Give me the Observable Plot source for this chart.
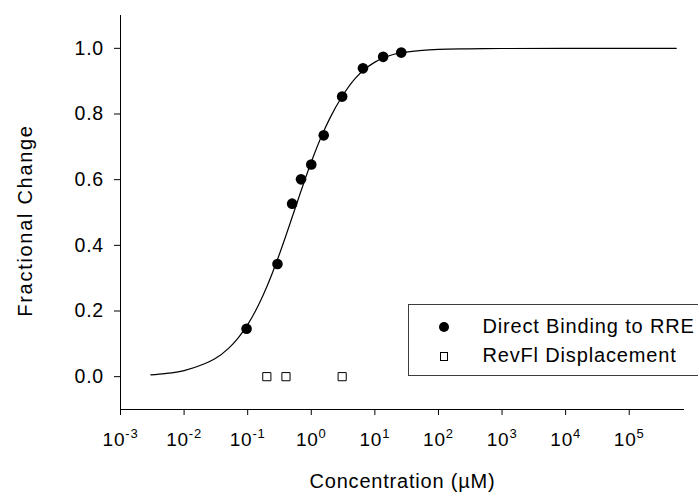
<!DOCTYPE html>
<html>
<head>
<meta charset="utf-8">
<script src="https://cdn.jsdelivr.net/npm/d3@7"></script>
<script src="https://cdn.jsdelivr.net/npm/@observablehq/plot@0.6"></script>
<style>
  html, body { margin: 0; padding: 0; background: #fff; }
  #wrap { position: relative; width: 698px; height: 493px; overflow: hidden; font-family: "Liberation Sans", Arial, sans-serif; }
  #chart svg text { letter-spacing: 0.8px; }
  #legend { position: absolute; left: 408px; top: 304px; width: 330px; height: 70px; border: 1px solid #3c3c3c; background: #fff;
            font-size: 20px; letter-spacing: 0.85px; color: #000; }
  #legend .row { position: absolute; left: 73.4px; line-height: 29px; white-space: nowrap; }
  #legend .sym { position: absolute; box-sizing: border-box; }
  #legend .circ { width: 10.6px; height: 10.6px; border-radius: 50%; background: #000; }
  #legend .sq { width: 8.5px; height: 8.5px; border: 1px solid #000; background: #fff; }
</style>
</head>
<body>
<div id="wrap">
  <div id="chart"></div>
  <div id="legend"></div>
</div>
<script>
// ---- data ----
const seriesNames = ["Direct Binding to RRE", "RevFl Displacement"];
const directX = [0.096, 0.294, 0.50, 0.69, 1.0, 1.57, 3.06, 6.5, 13.5, 26];
const directY = [0.146, 0.343, 0.527, 0.601, 0.646, 0.735, 0.853, 0.939, 0.974, 0.987];
const revflX = [0.2, 0.4, 3.06];
const revflY = [0, 0, 0];
// fitted curve
const fitX = [0.003, 0.005, 0.01, 0.02, 0.03, 0.05, 0.07, 0.1, 0.15, 0.2, 0.3, 0.4, 0.5, 0.7, 1, 1.5, 2, 3, 5, 7, 10, 20, 50, 100, 300, 1000, 1e4, 1e5, 5.5e5];
const fitY = [0.0056, 0.0094, 0.0185, 0.0377, 0.0536, 0.0862, 0.1167, 0.1587, 0.2206, 0.2740, 0.3614, 0.4301, 0.4854, 0.5691, 0.6536, 0.7389, 0.7905, 0.8510, 0.9100, 0.9370, 0.9580, 0.9820, 0.9930, 0.9970, 0.9985, 0.9995, 1.0, 1.0, 1.0];
const xTicks = [1e-3, 1e-2, 1e-1, 1, 1e1, 1e2, 1e3, 1e4, 1e5];
const xTickExponents = ["-3", "-2", "-1", "0", "1", "2", "3", "4", "5"];
const yTicks = [0, 0.2, 0.4, 0.6, 0.8, 1.0];
const yTickLabels = ["0.0", "0.2", "0.4", "0.6", "0.8", "1.0"];
const xTitle = "Concentration (\u00B5M)";
const yTitle = "Fractional Change";

const directData = directX.map((x, i) => ({x, y: directY[i]}));
const revflData = revflX.map((x, i) => ({x, y: revflY[i]}));
const fitData = fitX.map((x, i) => ({x, y: fitY[i]}));

const chart = Plot.plot({
  width: 698,
  height: 493,
  marginLeft: 120,
  marginRight: 14,
  marginTop: 15,
  marginBottom: 84,
  style: {fontFamily: "'Liberation Sans', Arial, sans-serif", fontSize: "19px", color: "#000", background: "#fff"},
  x: {type: "log", domain: [1e-3, 7.4e5]},
  y: {domain: [-0.1, 1.1]},
  marks: [
    Plot.ruleY([-0.1], {stroke: "#000", strokeWidth: 1}),
    Plot.ruleX([1e-3], {stroke: "#000", strokeWidth: 1}),
    Plot.axisX({ticks: xTicks, tickSize: 6, tickPadding: 16.5, tickFormat: (d) => xTickExponents[xTicks.indexOf(d)], label: null, fontSize: 19}),
    Plot.axisY({ticks: yTicks, tickSize: 6, tickPadding: 10.5, tickFormat: (d) => yTickLabels[yTicks.indexOf(d)], label: null, fontSize: 19.5}),
    Plot.line(fitData, {x: "x", y: "y", curve: "monotone-x", stroke: "#000", strokeWidth: 1.2}),
    Plot.dot(directData, {x: "x", y: "y", r: 5.3, fill: "#000", stroke: "none"}),
    Plot.dot(revflData, {x: "x", y: "y", r: 4.6, symbol: "square", fill: "#fff", stroke: "#000", strokeWidth: 1}),
    Plot.text([yTitle], {text: (d) => d, frameAnchor: "left", textAnchor: "middle", rotate: -90, dx: -102.7, dy: 8, lineAnchor: "top", fontSize: 20, fill: "#000"}),
    Plot.text([xTitle], {text: (d) => d, frameAnchor: "bottom", textAnchor: "middle", dy: 78, lineAnchor: "bottom", fontSize: 20, fill: "#000"})
  ]
});
document.getElementById("chart").appendChild(chart);

// turn x tick labels into 10 with superscript exponent
const svgNS = "http://www.w3.org/2000/svg";
chart.querySelectorAll('g[aria-label="x-axis tick label"] text').forEach((t) => {
  const exp = t.textContent;
  t.textContent = "10";
  const ts = document.createElementNS(svgNS, "tspan");
  ts.setAttribute("font-size", "13px");
  ts.setAttribute("dy", "-0.6em");
  ts.textContent = exp;
  t.appendChild(ts);
});
// wider spacing of the y-axis title, as in the reference rendering
chart.querySelectorAll("text").forEach((t) => {
  if (t.textContent === yTitle) t.style.letterSpacing = "1.7px";
});

// legend
const legend = document.getElementById("legend");
legend.innerHTML = `
  <span class="sym circ" style="left:29.7px;top:16.7px"></span>
  <span class="row" style="top:7.3px">${seriesNames[0]}</span>
  <span class="sym sq" style="left:30.5px;top:47.2px"></span>
  <span class="row" style="top:36px">${seriesNames[1]}</span>`;
</script>
</body>
</html>
